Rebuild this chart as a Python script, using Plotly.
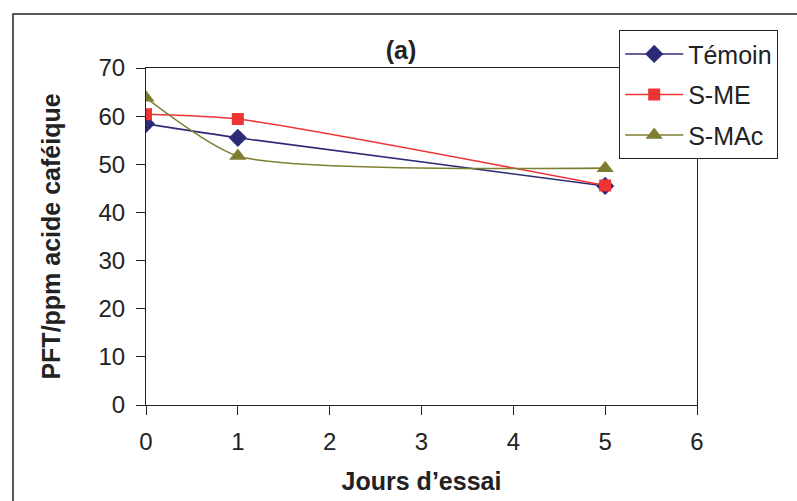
import plotly.graph_objects as go

jours = [0, 1, 5]
temoin = [58.4, 55.5, 45.5]
s_me = [60.4, 59.4, 45.6]
s_mac = [63.8, 51.7, 49.2]

series = [
    ("Témoin", temoin, "#2D2B78", "diamond", 14, 0.6),
    ("S-ME", s_me, "#EE3333", "square", 12, 0.6),
    ("S-MAc", s_mac, "#7E7E30", "triangle-up", 15, 0.6),
]

FONT = "Liberation Sans, Arial, sans-serif"

fig = go.Figure()
for name, ys, col, sym, sz, sm in series:
    fig.add_trace(go.Scatter(
        x=jours, y=ys, name=name, mode="lines+markers",
        line=dict(color=col, width=1.6, shape="spline", smoothing=sm),
        marker=dict(symbol=sym, size=sz, color=col),
        legendgroup=name,
    ))

L, R, T, B = 146, 100, 68, 96
W, H = 797, 501
pw, ph = W - L - R, H - T - B

def px_x(p):
    return (p - L) / pw

def px_y(p):
    return (H - B - p) / ph

fig.update_layout(
    width=W, height=H,
    margin=dict(l=L, r=R, t=T, b=B, autoexpand=False),
    paper_bgcolor="white", plot_bgcolor="white",
    font=dict(family=FONT, size=24, color="#222222"),
    title=dict(text="<b>(a)</b>", x=px_x(401), xref="paper", xanchor="center",
               y=1 - 50 / H, yanchor="middle", font=dict(size=25, color="#222222")),
    showlegend=True,
    legend=dict(
        x=px_x(619), y=px_y(30), xanchor="left", yanchor="top",
        bgcolor="white", bordercolor="#222222", borderwidth=1.2,
        font=dict(size=25, color="#222222"),
        traceorder="grouped", tracegroupgap=5, itemwidth=58,
    ),
    xaxis=dict(
        range=[0, 6], tickvals=[0, 1, 2, 3, 4, 5, 6], showgrid=False, zeroline=False,
        showline=True, linecolor="#222222", linewidth=1, mirror=True,
        ticks="outside", ticklen=9, tickcolor="#222222", tickfont=dict(size=24),
        ticklabelstandoff=6,
        title=dict(text="<b>Jours d’essai</b>", font=dict(size=25), standoff=18),
    ),
    yaxis=dict(
        range=[0, 70], tickvals=[0, 10, 20, 30, 40, 50, 60, 70], showgrid=False, zeroline=False,
        showline=True, linecolor="#222222", linewidth=1, mirror=True,
        ticks="outside", ticklen=9, tickcolor="#222222", tickfont=dict(size=24),
        ticklabelstandoff=6,
        title=dict(text="<b>PFT/ppm acide caféique</b>", font=dict(size=25), standoff=30),
    ),
)

# outer frame (cropped on right and bottom)
fig.add_shape(type="rect", xref="paper", yref="paper",
              x0=px_x(13), x1=px_x(830), y0=px_y(540), y1=px_y(14),
              line=dict(color="#222222", width=1.5), fillcolor="rgba(0,0,0,0)", layer="below")

fig.write_html("out.html")
